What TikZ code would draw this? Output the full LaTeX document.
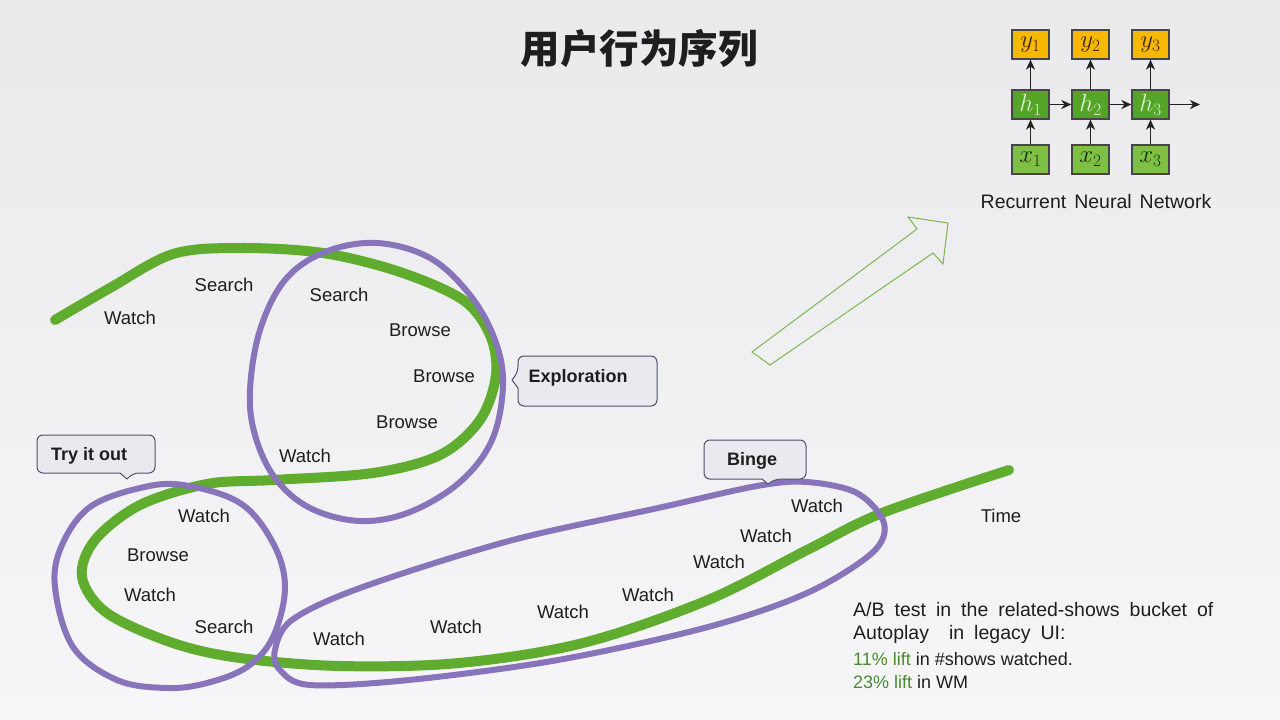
\documentclass[tikz,border=0pt]{standalone}
\usepackage{fontspec}
\setmainfont{Liberation Sans}
\newfontfamily\cjk{Noto Sans CJK SC}
\usetikzlibrary{arrows.meta}
\definecolor{grn}{RGB}{96,172,46}
\definecolor{purp}{RGB}{136,116,186}
\definecolor{txt}{RGB}{30,30,30}
\definecolor{cbord}{RGB}{80,80,110}
\definecolor{cfill}{RGB}{234,234,238}
\definecolor{bgtop}{RGB}{234,234,236}
\definecolor{bgmid}{RGB}{220,221,223}
\definecolor{bgbot}{RGB}{246,246,248}
\definecolor{yfill}{RGB}{246,184,0}
\definecolor{hfill}{RGB}{84,164,40}
\definecolor{xfill}{RGB}{126,192,68}
\definecolor{rbord}{RGB}{70,70,70}
\definecolor{darr}{RGB}{35,35,35}
\definecolor{lift}{RGB}{74,138,48}
\definecolor{arrowgreen}{RGB}{120,184,80}
\newcommand\widespA{\spaceskip=10pt plus 1pt\relax}
\newcommand\widespB{\spaceskip=8pt plus 1pt\relax}
\tikzset{
  greenline/.style={line width=10pt, draw=grn, line cap=round},
  purpleline/.style={line width=6pt, draw=purp},
  lbl/.style={font=\fontsize{18.5}{22}\selectfont, text=txt, inner sep=0pt},
  calloutbox/.style={draw=cbord, line width=1pt, fill=cfill},
  calltext/.style={font=\bfseries\fontsize{18}{22}\selectfont, text=txt, inner sep=0pt},
  rnnbox/.style={draw=rbord, line width=1.3pt, minimum width=37pt, minimum height=29pt, inner sep=0pt, font=\fontsize{24}{28}\selectfont},
  rarr/.style={-{Stealth[length=10pt,width=9pt,inset=3pt]}, line width=1.5pt, draw=darr},
  abtext/.style={font=\fontsize{19.5}{23}\selectfont, text=txt, inner sep=0pt, anchor=west},
  abtext2/.style={font=\fontsize{18}{21}\selectfont, text=txt, inner sep=0pt, anchor=west}
}
\begin{document}
\begin{tikzpicture}[x=1pt, y=-1pt]
\useasboundingbox (0,0) rectangle (1280,720);
\shade[top color=bgtop, middle color=bgmid, bottom color=bgbot] (0,0) rectangle (1280,720);

% title
\node[font=\cjk\bfseries\fontsize{39.5}{46}\selectfont, text=txt] (title) at (639,48) {用户行为序列};

% green time line
\draw[greenline] plot[smooth, tension=0.55] coordinates {
 (55,320) (110,288) (173,254) (240,248) (323,253) (400,272) (463,300)
 (490,335) (496,375) (480,420) (440,455) (373,473) (273,480) (207,484)
 (140,505) (95,540) (82,577) (107,613) (173,643) (240,658) (340,666)
 (459,663) (583,643) (708,600) (807,550) (882,513) (1009,470)};

% purple groups
\draw[purpleline] plot[smooth cycle, tension=0.6] coordinates {
 (377,243) (430,258) (470,295) (495,340) (503,385) (492,440) (460,482)
 (410,512) (360,521) (310,508) (275,478) (255,435) (250,390) (260,330)
 (285,280) (325,252)};
\draw[purpleline] plot[smooth cycle, tension=0.6] coordinates {
 (183,485) (240,503) (273,543) (285,587) (273,637) (247,667) (207,683)
 (167,688) (117,680) (73,647) (55,587) (62,545) (90,507) (140,488)};
\draw[purpleline] plot[smooth cycle, tension=0.55] coordinates {
 (275,650) (292,620) (360,588) (509,541) (658,508) (757,486) (807,482)
 (857,493) (884,523) (872,553) (807,593) (708,627) (558,660) (409,680)
 (310,685) (280,670)};

% labels
\node[lbl] (w1) at (130,318) {Watch};
\node[lbl] (s1) at (224,285) {Search};
\node[lbl] (s2) at (339,295) {Search};
\node[lbl] (b1) at (420,330) {Browse};
\node[lbl] (b2) at (444,376) {Browse};
\node[lbl] (b3) at (407,422) {Browse};
\node[lbl] (w2) at (305,456) {Watch};
\node[lbl] (w3) at (204,516) {Watch};
\node[lbl] (b4) at (158,555) {Browse};
\node[lbl] (w4) at (150,595) {Watch};
\node[lbl] (s3) at (224,627) {Search};
\node[lbl] (w5) at (339,639) {Watch};
\node[lbl] (w6) at (456,627) {Watch};
\node[lbl] (w7) at (563,612) {Watch};
\node[lbl] (w8) at (648,595) {Watch};
\node[lbl] (w9) at (719,562) {Watch};
\node[lbl] (w10) at (766,536) {Watch};
\node[lbl] (w11) at (817,506) {Watch};
\node[lbl] (time) at (1001,516) {Time};

% callouts
\draw[calloutbox] (518,372) -- (512,380) -- (518,388) [rounded corners=6pt] -- (518,406) -- (657,406) -- (657,356) -- (518,356) -- cycle;
\node[calltext] (explo) at (578,378) {Exploration};

\draw[calloutbox] (133,473) -- (127,479) -- (120,473) [rounded corners=6pt] -- (37,473) -- (37,435) -- (155,435) -- (155,473) -- cycle;
\node[calltext] (try) at (89,456) {Try it out};

\draw[calloutbox] (775,479) -- (768,484) -- (762,479) [rounded corners=6pt] -- (704,479) -- (704,440) -- (806,440) -- (806,479) -- cycle;
\node[calltext] (binge) at (752,461) {Binge};

% hollow arrow
\draw[draw=arrowgreen, line width=1pt, line join=miter] (752,352) -- (917,229) -- (908,217) -- (948,223) -- (943,264) -- (933,253) -- (770,365) -- cycle;

% RNN
\foreach \i/\xx in {1/1030.5, 2/1090.5, 3/1150.5} {
  \node[rnnbox, fill=yfill, text={rgb,255:red,60;green,40;blue,10}] (y\i) at (\xx,44.5) {$y_{\i}$};
  \node[rnnbox, fill=hfill, text={rgb,255:red,220;green,240;blue,205}] (h\i) at (\xx,104.5) {$h_{\i}$};
  \node[rnnbox, fill=xfill, text={rgb,255:red,25;green,45;blue,15}] (x\i) at (\xx,159.5) {$x_{\i}$};
  \draw[rarr] (h\i) -- (y\i);
  \draw[rarr] (x\i) -- (h\i);
}
\coordinate (hout) at (1200,104.5);
\draw[rarr] (h1) -- (h2);
\draw[rarr] (h2) -- (h3);
\draw[rarr] (h3) -- (hout);
\node[font=\fontsize{19.5}{23}\selectfont, text=txt, inner sep=0pt] (rnn) at (1096,202) {\widespB Recurrent Neural Network};

% A/B text
\node[abtext] (ab1) at (853,610) {\widespA A/B test in the related-shows bucket of};
\node[abtext] (ab2) at (853,634) {\widespA Autoplay \ in legacy UI:};
\node[abtext2] (ab3) at (853,659) {\textcolor{lift}{11\% lift} in \#shows watched.};
\node[abtext2] (ab4) at (853,682) {\textcolor{lift}{23\% lift} in WM};
\end{tikzpicture}
\end{document}
